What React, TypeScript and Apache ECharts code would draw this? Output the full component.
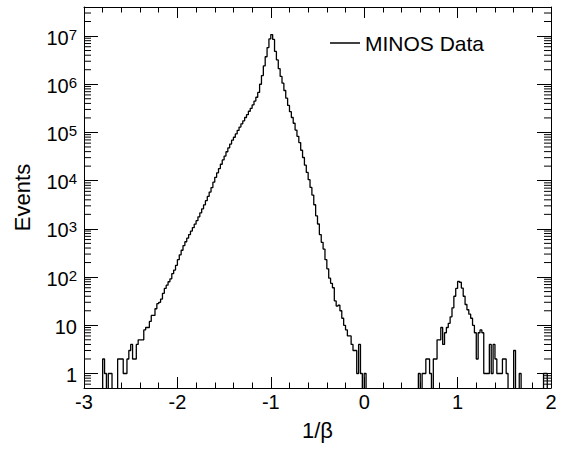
import React, { useEffect, useRef } from "react";
import * as echarts from "echarts";

// ---- data ----
const BIN_START = -3;
const BIN_WIDTH = 0.02;
// event counts per bin of width 0.02, starting at 1/beta = -3
const COUNTS = [
  0, 0, 0, 0, 0, 0, 0, 0, 0, 0,
  2, 1, 0, 1, 1, 0, 0, 0, 2, 2,
  2, 1, 1, 2, 3, 4, 2, 2, 4, 5,
  5, 5, 8, 9, 9, 12, 16, 16, 22, 28,
  30, 35, 46, 58, 68, 80, 92, 118, 140, 175,
  230, 290, 360, 450, 540, 640, 760, 900, 1060, 1250,
  1480, 1780, 2150, 2600, 3150, 3850, 4700, 5800, 7200, 9300,
  11700, 14500, 17800, 21900, 26900, 32400, 39800, 47900, 57500, 69200,
  79400, 93300, 110000, 129000, 151000, 174000, 204000, 234000, 275000, 316000,
  372000, 447000, 537000, 676000, 1000000, 1510000, 2400000, 3720000, 5750000, 8700000,
  10700000, 8500000, 4800000, 3200000, 2100000, 1450000, 1050000, 741000, 513000, 363000,
  269000, 204000, 155000, 112000, 83000, 61700, 42700, 30200, 20900, 14800,
  10500, 7240, 5010, 3160, 1860, 1260, 760, 525, 380, 229,
  148, 95, 74, 60, 32, 25, 26, 20, 14, 10,
  8, 6, 6, 4, 3, 3, 1, 4, 1, 0,
  1, 0, 0, 0, 0, 0, 0, 0, 0, 0,
  0, 0, 0, 0, 0, 0, 0, 0, 0, 0,
  0, 0, 0, 0, 0, 0, 0, 0, 0, 1,
  0, 1, 1, 2, 2, 1, 0, 2, 2, 5,
  5, 9, 4, 7, 9, 11, 15, 23, 40, 58,
  81, 78, 59, 40, 27, 21, 17, 14, 10, 7,
  2, 7, 8, 7, 1, 1, 1, 4, 1, 4,
  2, 1, 1, 1, 2, 2, 1, 0, 0, 0,
  3, 0, 0, 1, 0, 0, 0, 0, 0, 0,
  0, 0, 0, 0, 0, 0, 1, 1, 0, 0,
];
const SERIES_NAME = "MINOS Data";
const X_TITLE = "1/β";
const Y_TITLE = "Events";
const X_MIN = -3;
const X_MAX = 2;
const X_INTERVAL = 1;
const Y_MIN = 0.5;
const Y_MAX = 4e7;
const Y_DECADES = [0.1, 1, 10, 100, 1e3, 1e4, 1e5, 1e6, 1e7];
const MINOR_MULTIPLIERS = [2, 3, 4, 5, 6, 7, 8, 9];
const ZERO_FLOOR = 0.01; // empty bins drawn below the axis floor

const FONT = "'Liberation Sans', Arial, Helvetica, sans-serif";
const INK = "#000";

export default function App() {
  const ref = useRef<HTMLDivElement>(null);

  useEffect(() => {
    if (!ref.current) return;
    const chart = echarts.init(ref.current, undefined, { renderer: "svg" });

    const histData: number[][] = COUNTS.map((c, i) => [
      BIN_START + i * BIN_WIDTH,
      c > 0 ? c : ZERO_FLOOR,
    ]);
    const last = COUNTS[COUNTS.length - 1];
    histData.push([BIN_START + COUNTS.length * BIN_WIDTH, last > 0 ? last : ZERO_FLOOR]);

    const minorTicks: number[][] = [];
    Y_DECADES.forEach((d) =>
      MINOR_MULTIPLIERS.forEach((m) => {
        const v = m * d;
        if (v > Y_MIN * 1.0001 && v < Y_MAX * 0.9999) minorTicks.push([X_MIN, v]);
      })
    );

    const yLabel = (v: number) => {
      const k = Math.round(Math.log10(v));
      if (k === 0) return "{b|1}";
      if (k === 1) return "{b|10}";
      return `{b|10}{s|${k}}`;
    };

    const xAxisCommon = {
      type: "value",
      min: X_MIN,
      max: X_MAX,
      interval: X_INTERVAL,
      splitLine: { show: false },
      axisLine: { show: true, onZero: false, lineStyle: { color: INK, width: 1 } },
      axisTick: { show: true, inside: true, length: 11, lineStyle: { color: INK, width: 1 } },
      minorTick: { show: true, splitNumber: 5, length: 5.5, lineStyle: { color: INK, width: 1 } },
      minorSplitLine: { show: false },
    };
    const yAxisCommon = {
      type: "log",
      logBase: 10,
      min: Y_MIN,
      max: Y_MAX,
      splitLine: { show: false },
      axisLine: { show: true, onZero: false, lineStyle: { color: INK, width: 1 } },
      axisTick: { show: true, inside: true, length: 14, lineStyle: { color: INK, width: 1 } },
    };

    chart.setOption({
      animation: false,
      backgroundColor: "#fff",
      textStyle: { fontFamily: FONT, color: INK },
      grid: { left: 84, right: 12, top: 7, bottom: 62, containLabel: false },
      legend: {
        data: [{ name: SERIES_NAME, icon: "rect" }],
        left: 325,
        top: 27,
        itemWidth: 30,
        itemHeight: 1.5,
        itemStyle: { color: INK },
        textStyle: { fontSize: 21, fontFamily: FONT, color: INK, lineHeight: 22 },
        selectedMode: false,
      },
      xAxis: [
        {
          ...xAxisCommon,
          position: "bottom",
          name: X_TITLE,
          nameLocation: "middle",
          nameGap: 31,
          nameTextStyle: { fontSize: 22, fontFamily: FONT, color: INK },
          axisLabel: {
            show: true,
            margin: 4,
            fontSize: 20,
            fontFamily: FONT,
            color: INK,
            formatter: (v: number) => String(v),
          },
        },
        {
          ...xAxisCommon,
          position: "top",
          axisLabel: { show: false },
        },
      ],
      yAxis: [
        {
          ...yAxisCommon,
          position: "left",
          name: Y_TITLE,
          nameLocation: "middle",
          nameGap: 51,
          nameTextStyle: { fontSize: 22, fontFamily: FONT, color: INK },
          axisLabel: {
            show: true,
            margin: 7,
            fontSize: 20,
            fontFamily: FONT,
            color: INK,
            showMinLabel: false,
            showMaxLabel: false,
            formatter: yLabel,
            padding: [3, 0, 0, 0],
            rich: {
              b: { fontSize: 20, lineHeight: 22, fontFamily: FONT, color: INK },
              s: { fontSize: 15, lineHeight: 15, verticalAlign: "top", fontFamily: FONT, color: INK },
            },
          },
        },
        {
          ...yAxisCommon,
          position: "right",
          axisLabel: { show: false },
        },
      ],
      series: [
        {
          name: SERIES_NAME,
          type: "line",
          step: "end",
          xAxisIndex: 0,
          yAxisIndex: 0,
          data: histData,
          symbol: "none",
          clip: true,
          lineStyle: { color: INK, width: 1.3 },
          itemStyle: { color: INK },
          silent: true,
        },
        {
          name: "minor-ticks",
          type: "custom",
          xAxisIndex: 0,
          yAxisIndex: 0,
          data: minorTicks,
          silent: true,
          clip: false,
          z: 5,
          renderItem: (_params: any, api: any) => {
            const v = api.value(1);
            const l = api.coord([X_MIN, v]);
            const r = api.coord([X_MAX, v]);
            const style = { stroke: INK, lineWidth: 1 };
            return {
              type: "group",
              children: [
                { type: "line", shape: { x1: l[0], y1: l[1], x2: l[0] + 7, y2: l[1] }, style },
                { type: "line", shape: { x1: r[0] - 7, y1: r[1], x2: r[0], y2: r[1] }, style },
              ],
            };
          },
        },
      ],
    });

    return () => chart.dispose();
  }, []);

  return (
    <div
      ref={ref}
      style={{ position: "absolute", left: 0, top: 0, width: 563, height: 450, background: "#fff" }}
    />
  );
}
